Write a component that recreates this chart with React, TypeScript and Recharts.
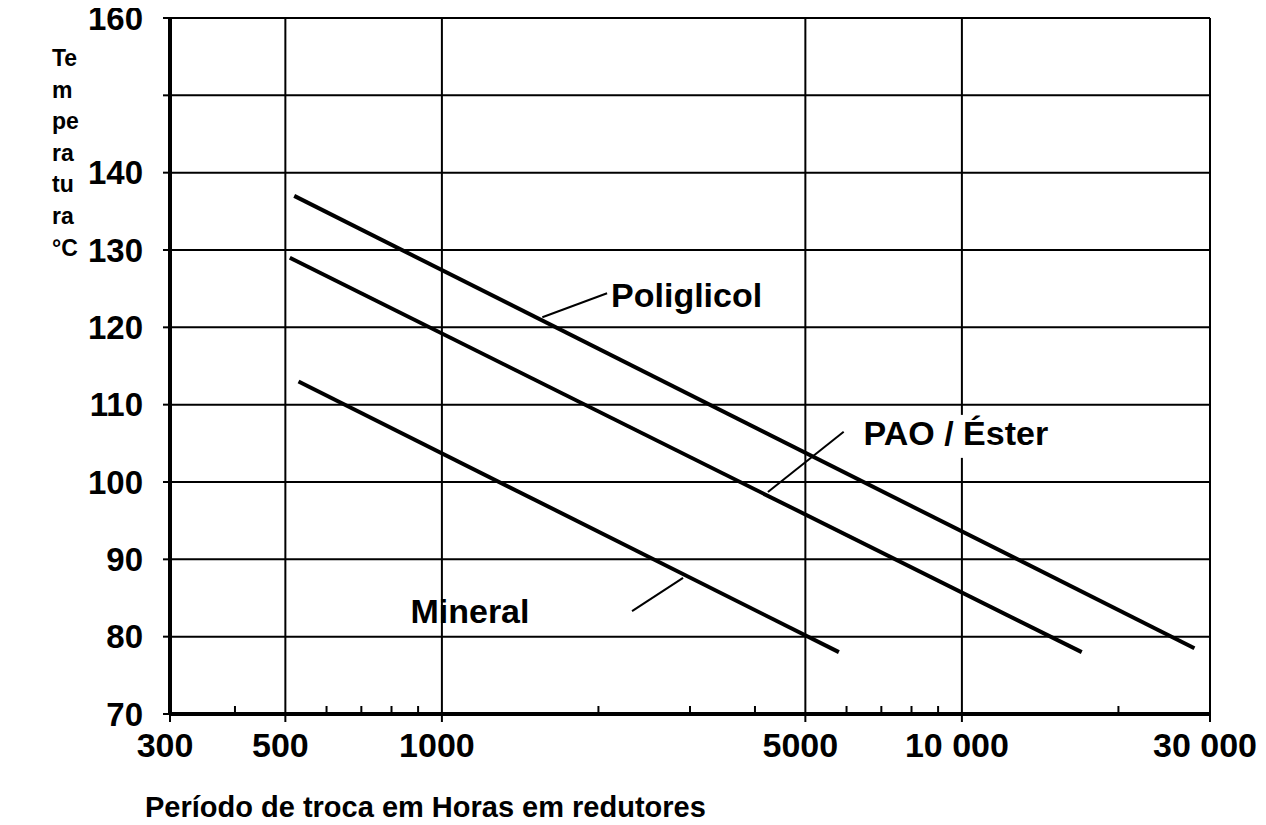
import { LineChart, Line, XAxis, YAxis, CartesianGrid, ReferenceLine, ReferenceDot } from "recharts";

// axis ticks
const xTicks = [300, 500, 1000, 5000, 10000, 30000];
const xMinorTicks = [400, 600, 700, 800, 900, 2000, 3000, 4000, 6000, 7000, 8000, 9000, 20000];
const xTopTicks = [400, 20000];
const xGrid = [500, 1000, 5000, 10000, 30000];
const yTicks = [70, 80, 90, 100, 110, 120, 130, 140, 150, 160];

// series: change interval (hours) vs temperature (°C)
const poliglicolHours = [520, 28000];
const poliglicolTemp = [137, 78.5];
const paoHours = [510, 17000];
const paoTemp = [129, 78];
const mineralHours = [530, 5800];
const mineralTemp = [113, 78];

const yTitle = ["Te", "m", "pe", "ra", "tu", "ra", "°C"];
const xTitle = "Período de troca em Horas em redutores";

const FONT = "'Liberation Sans', Arial, Helvetica, sans-serif";

const toPoints = (hours: number[], temp: number[]) =>
	hours.map((h, i) => ({ hours: h, temp: temp[i] }));

const series = [
	{ name: "Poliglicol", data: toPoints(poliglicolHours, poliglicolTemp) },
	{ name: "PAO / Éster", data: toPoints(paoHours, paoTemp) },
	{ name: "Mineral", data: toPoints(mineralHours, mineralTemp) },
];

// labels with leader lines, in data units
const notes = [
	{ text: "Poliglicol", at: [2115, 122.6], from: [1560, 121.3], to: [2078, 124.4], boxed: false },
	{ text: "PAO / Éster", at: [6471, 104.8], from: [4236, 98.7], to: [5925, 106.5], boxed: true },
	{ text: "Mineral", at: [870, 81.8], from: [2321, 83.3], to: [2909, 87.6], boxed: false },
];

const fmtHours = (v: number) => (v >= 10000 ? `${v / 1000} 000` : String(v));

function XTick(props: any) {
	const { x, y, payload } = props;
	const v = payload.value;
	if (!xTicks.includes(v)) {
		return <line x1={x} x2={x} y1={y} y2={y - 8} stroke="#000" strokeWidth={2} />;
	}
	return (
		<g>
			<line x1={x} x2={x} y1={y} y2={y + 8} stroke="#000" strokeWidth={2} />
			<text x={x - 5} y={y + 43} textAnchor="middle" fontFamily={FONT} fontWeight="bold" fontSize={34} fill="#000">
				{fmtHours(v)}
			</text>
		</g>
	);
}

const EmptyTick = () => <g />;

function NoteText(props: any) {
	const { cx, cy, text, boxed } = props;
	return (
		<g>
			{boxed && <rect x={cx + 80} y={cy - 30} width={30} height={43} fill="#fff" />}
			<text x={cx} y={cy} fontFamily={FONT} fontWeight="bold" fontSize={34} fill="#000">
				{text}
			</text>
		</g>
	);
}

export default function App() {
	return (
		<div style={{ position: "relative", width: 1250, height: 825, marginTop: -8 }}>
			<LineChart width={1250} height={825} margin={{ top: 18, right: 48, left: 0, bottom: 61 }}>
				<CartesianGrid vertical={false} stroke="#000" strokeWidth={2} strokeOpacity={1} />
				<XAxis
					xAxisId="top"
					orientation="top"
					type="number"
					scale="log"
					domain={[300, 30000]}
					allowDataOverflow
					ticks={xTopTicks}
					interval={0}
					mirror
					height={0}
					tickSize={7}
					tickLine={{ stroke: "#000", strokeWidth: 2 }}
					axisLine={false}
					tick={<EmptyTick />}
				/>
				<XAxis
					dataKey="hours"
					type="number"
					scale="log"
					domain={[300, 30000]}
					allowDataOverflow
					ticks={[...xTicks, ...xMinorTicks]}
					interval={0}
					height={50}
					tickSize={0}
					tickMargin={0}
					tickLine={false}
					axisLine={{ stroke: "#000", strokeWidth: 4 }}
					tick={<XTick />}
				/>
				<YAxis
					type="number"
					domain={[70, 160]}
					allowDataOverflow
					ticks={yTicks}
					interval={0}
					width={162}
					tickSize={7}
					tickMargin={20}
					tickLine={{ stroke: "#000", strokeWidth: 2 }}
					axisLine={{ stroke: "#000", strokeWidth: 4 }}
					tick={{ fill: "#000", fontSize: 33, fontWeight: "bold", fontFamily: FONT }}
					tickFormatter={(v: number) => (v === 150 ? "" : String(v))}
				/>
				{xGrid.map((v) => (
					<ReferenceLine key={v} x={v} stroke="#000" strokeWidth={2} />
				))}
				{notes.map((n) => (
					<ReferenceLine
						key={n.text + "-lead"}
						segment={[
							{ x: n.from[0], y: n.from[1] },
							{ x: n.to[0], y: n.to[1] },
						]}
						stroke="#000"
						strokeWidth={2}
					/>
				))}
				{series.map((s) => (
					<Line
						key={s.name}
						data={s.data}
						dataKey="temp"
						type="linear"
						stroke="#000"
						strokeWidth={4}
						dot={false}
						isAnimationActive={false}
					/>
				))}
				{notes.map((n) => (
					<ReferenceDot
						key={n.text}
						x={n.at[0]}
						y={n.at[1]}
						r={0}
						shape={(p: any) => <NoteText {...p} text={n.text} boxed={n.boxed} />}
					/>
				))}
			</LineChart>
			<svg
				width={1250}
				height={825}
				style={{ position: "absolute", left: 0, top: 0, pointerEvents: "none" }}
			>
				{yTitle.map((t, i) => (
					<text key={i} x={44} y={66 + i * 31.6} fontFamily={FONT} fontWeight="bold" fontSize={23} fill="#000">
						{t}
					</text>
				))}
				<text x={137} y={817} fontFamily={FONT} fontWeight="bold" fontSize={29} fill="#000">
					{xTitle}
				</text>
			</svg>
		</div>
	);
}
